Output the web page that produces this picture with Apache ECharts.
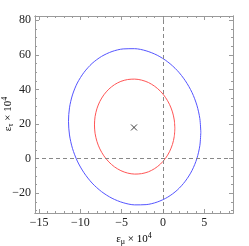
<!DOCTYPE html>
<html><head><meta charset="utf-8">
<script src="https://cdn.jsdelivr.net/npm/echarts@6/dist/echarts.min.js"></script>
<style>html,body{margin:0;padding:0;background:#fff}#c{width:249px;height:246px}</style>
</head><body><div id="c"></div>
<script>
// axis ranges and ticks
const xRange = [-15.5, 8.5];
const yRange = [-31.5, 82.5];
const xMajor = [-15, -10, -5, 0, 5];
const xMinor = [-15,-14,-13,-12,-11,-10,-9,-8,-7,-6,-5,-4,-3,-2,-1,0,1,2,3,4,5,6,7,8];
const yMajor = [-20, 0, 20, 40, 60, 80];
const yMinor = [-30,-25,-20,-15,-10,-5,0,5,10,15,20,25,30,35,40,45,50,55,60,65,70,75,80];

// outer (blue) contour
const blueContour = [
[4.60,15.24],[4.48,23.13],[4.12,30.88],[3.53,38.26],[2.72,45.03],[1.74,50.98],[0.59,55.95],[-0.68,59.78],[-2.03,62.35],
[-3.42,63.59],[-4.81,63.45],[-6.16,61.95],[-7.43,59.12],[-8.58,55.05],[-9.56,49.87],[-10.37,43.73],[-10.96,36.82],[-11.32,29.36],
[-11.44,21.56],[-11.32,13.67],[-10.96,5.92],[-10.37,-1.46],[-9.56,-8.23],[-8.58,-14.18],[-7.43,-19.15],[-6.16,-22.98],[-4.81,-25.55],
[-3.42,-26.79],[-2.03,-26.65],[-0.68,-25.15],[0.59,-22.32],[1.74,-18.25],[2.72,-13.07],[3.53,-6.93],[4.12,-0.02],[4.48,7.44],[4.60,15.24]
];
// inner (red) contour
const redContour = [
[1.45,17.54],[1.38,22.33],[1.16,27.00],[0.80,31.41],[0.31,35.43],[-0.29,38.94],[-0.99,41.82],[-1.75,44.00],[-2.58,45.40],
[-3.42,45.98],[-4.27,45.73],[-5.09,44.66],[-5.86,42.78],[-6.55,40.17],[-7.15,36.90],[-7.64,33.07],[-8.00,28.80],[-8.22,24.22],
[-8.29,19.46],[-8.22,14.67],[-8.00,10.00],[-7.64,5.59],[-7.15,1.57],[-6.55,-1.94],[-5.86,-4.82],[-5.09,-7.00],[-4.27,-8.40],
[-3.42,-8.98],[-2.58,-8.73],[-1.75,-7.66],[-0.99,-5.78],[-0.29,-3.17],[0.31,0.10],[0.80,3.93],[1.16,8.20],[1.38,12.78],[1.45,17.54]
];
const bestFit = [[-3.5, 18]];
const refX = 0, refY = 0;

const FRAME = '#9a9a9a';
const FONT = 'Liberation Serif';
const fmt = v => String(v).replace('-', '\u2212');

function xAxis(grid, pos, ticks, len, labels) {
  return {
    type: 'value', gridIndex: grid, position: pos, min: xRange[0], max: xRange[1],
    axisLine: { show: true, onZero: false, lineStyle: { color: FRAME, width: 1 } },
    axisTick: { show: true, inside: true, length: len, customValues: ticks, lineStyle: { color: FRAME } },
    axisLabel: { show: labels, customValues: ticks, margin: 4, fontFamily: FONT, fontSize: 12, color: '#222', formatter: fmt },
    splitLine: { show: false }
  };
}
function yAxis(grid, pos, ticks, len, labels) {
  return {
    type: 'value', gridIndex: grid, position: pos, min: yRange[0], max: yRange[1],
    axisLine: { show: true, onZero: false, lineStyle: { color: FRAME, width: 1 } },
    axisTick: { show: true, inside: true, length: len, customValues: ticks, lineStyle: { color: FRAME } },
    axisLabel: { show: labels, customValues: ticks, margin: 4, fontFamily: FONT, fontSize: 12, color: '#222', formatter: fmt },
    splitLine: { show: false }
  };
}

const gridBox = { left: 35, top: 16, right: 16, bottom: 33 };
const chart = echarts.init(document.getElementById('c'), null, { renderer: 'canvas' });
const titleRich = {
  e: { fontSize: 11, fontFamily: FONT, color: '#222', lineHeight: 14 },
  s: { fontSize: 8, fontFamily: FONT, color: '#222', verticalAlign: 'bottom', lineHeight: 8 },
  p: { fontSize: 8, fontFamily: FONT, color: '#222', verticalAlign: 'top', lineHeight: 8 }
};
chart.setOption({
  animation: false,
  backgroundColor: '#fff',
  grid: [Object.assign({}, gridBox), Object.assign({}, gridBox)],
  xAxis: [
    xAxis(0, 'bottom', xMajor, 4, true),
    xAxis(0, 'top', xMajor, 4, false),
    xAxis(1, 'bottom', xMinor, 2, false),
    xAxis(1, 'top', xMinor, 2, false)
  ],
  yAxis: [
    yAxis(0, 'left', yMajor, 4, true),
    yAxis(0, 'right', yMajor, 4, false),
    yAxis(1, 'left', yMinor, 2, false),
    yAxis(1, 'right', yMinor, 2, false)
  ],
  series: [
    {
      type: 'line', xAxisIndex: 0, yAxisIndex: 0, data: blueContour, smooth: 0.3, showSymbol: false,
      lineStyle: { color: '#5555ff', width: 1 }, silent: true,
      markLine: {
        silent: true, symbol: 'none', label: { show: false },
        lineStyle: { color: '#888', width: 1, type: [4, 3] },
        data: [{ xAxis: refX }, { yAxis: refY }]
      }
    },
    {
      type: 'line', xAxisIndex: 0, yAxisIndex: 0, data: redContour, smooth: 0.3, showSymbol: false,
      lineStyle: { color: '#ff5555', width: 1 }, silent: true
    },
    {
      type: 'scatter', xAxisIndex: 0, yAxisIndex: 0, data: bestFit,
      symbol: 'path://M0,0L10,10M10,0L0,10', symbolSize: 6,
      itemStyle: { color: 'rgba(0,0,0,0)', borderColor: '#111', borderWidth: 1 }, silent: true
    }
  ],
  graphic: [
    { type: 'text', x: 134, y: 239, style: { text: '{e|\u03b5}{s|\u03bc}{e| \u00d7 10}{p|4}', rich: titleRich, align: 'center', verticalAlign: 'middle' } },
    { type: 'text', x: 8, y: 114, rotation: Math.PI / 2, style: { text: '{e|\u03b5}{s|\u03c4}{e| \u00d7 10}{p|4}', rich: titleRich, align: 'center', verticalAlign: 'middle' } }
  ]
});
</script></body></html>
